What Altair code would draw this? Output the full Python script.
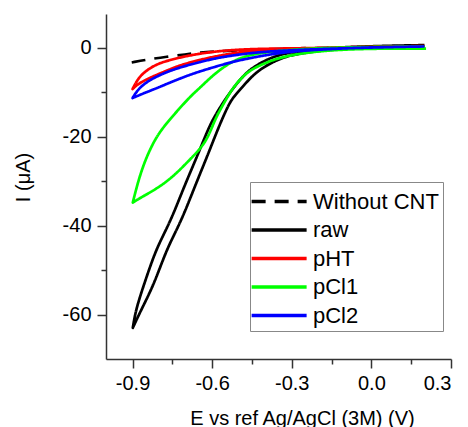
import altair as alt
import pandas as pd

series_names = ["Without CNT", "raw", "pHT", "pCl1", "pCl2"]
series_colors = ["#000000", "#000000", "#ff0000", "#00ff00", "#0000ff"]
series_dash = [[14, 9], [1, 0], [1, 0], [1, 0], [1, 0]]

# Without CNT (dashed)
nocnt_E = [-0.903, -0.84, -0.771, -0.70, -0.646, -0.58, -0.52, -0.40, -0.27, -0.12, 0.03, 0.12, 0.20]
nocnt_I = [-3.3, -2.6, -2.0, -1.5, -1.05, -0.8, -0.6, -0.35, -0.1, 0.05, 0.2, 0.3, 0.45]

# raw (black loop); the turning point is listed three times
raw_E = [0.20, 0.20, 0.10, 0.00, -0.10, -0.20, -0.27, -0.325, -0.375, -0.420, -0.455, -0.484,
         -0.508, -0.532, -0.566, -0.591, -0.616, -0.642, -0.667, -0.691, -0.716, -0.746, -0.776,
         -0.822, -0.868, -0.899, -0.899, -0.899,
         -0.888, -0.859, -0.816, -0.786, -0.756, -0.731, -0.707, -0.681, -0.654, -0.628, -0.602,
         -0.556, -0.516, -0.488, -0.458, -0.415, -0.37, -0.30, -0.20, -0.10, 0.00, 0.10, 0.20, 0.20]
raw_I = [0.45, 0.45, 0.3, 0.1, -0.2, -0.7, -1.3, -2.0, -3.3, -4.9, -6.7, -8.7,
         -10.3, -12.0, -16.5, -20.2, -24.0, -27.8, -31.5, -35.1, -38.7, -42.4, -46.1,
         -53.6, -59.0, -63.0, -63.0, -63.0,
         -59.0, -53.6, -46.1, -42.4, -38.7, -35.1, -31.5, -27.8, -24.0, -20.2, -16.5,
         -12.0, -8.7, -6.7, -4.9, -3.3, -2.0, -0.9, -0.2, 0.15, 0.35, 0.5, 0.6, 0.6]

# pHT (red loop)
pht_E = [0.20, 0.20, 0.10, 0.00, -0.10, -0.20, -0.30, -0.38, -0.457, -0.52, -0.583, -0.646, -0.709,
         -0.755, -0.796, -0.83, -0.86, -0.882, -0.90, -0.90, -0.90,
         -0.888, -0.872, -0.840, -0.809, -0.770, -0.733, -0.690, -0.646, -0.585, -0.52,
         -0.455, -0.394, -0.32, -0.25, -0.12, 0.00, 0.10, 0.20, 0.20]
pht_I = [0.4, 0.4, 0.3, 0.25, 0.1, -0.05, -0.12, -0.2, -0.3, -0.5, -0.8, -1.3, -2.0,
         -2.7, -3.4, -4.4, -5.7, -7.2, -9.3, -9.3, -9.3,
         -8.6, -7.9, -6.9, -6.1, -5.1, -4.2, -3.4, -2.7, -1.9, -1.2,
         -0.75, -0.45, -0.25, -0.1, 0.05, 0.2, 0.25, 0.3, 0.3]

# pCl1 (green loop)
pcl1_E = [0.206, 0.206, 0.10, 0.03, -0.05, -0.12, -0.20, -0.28, -0.35, -0.40, -0.457, -0.49,
          -0.517, -0.537, -0.555, -0.575, -0.592, -0.608, -0.625, -0.646, -0.696, -0.746,
          -0.803, -0.872, -0.899, -0.899, -0.899,
          -0.884, -0.865, -0.841, -0.809, -0.771, -0.727, -0.680, -0.646, -0.61, -0.57,
          -0.53, -0.49, -0.44, -0.37, -0.28, -0.18, -0.05, 0.10, 0.20, 0.20]
pcl1_I = [-0.2, -0.2, -0.2, -0.2, -0.3, -0.45, -0.8, -1.4, -2.3, -3.4, -5.0, -6.8,
          -8.7, -10.5, -12.4, -14.5, -16.6, -19.0, -21.0, -22.8, -25.9, -28.9,
          -31.5, -33.8, -34.8, -34.8, -34.8,
          -31.2, -27.4, -23.7, -19.9, -16.9, -13.9, -10.8, -9.0, -6.9, -4.9,
          -3.3, -2.2, -1.4, -0.8, -0.35, -0.05, 0.15, 0.25, 0.3, 0.3]

# pCl2 (blue loop)
pcl2_E = [0.20, 0.20, 0.10, 0.00, -0.10, -0.20, -0.28, -0.35, -0.40, -0.457, -0.52, -0.583, -0.646,
          -0.709, -0.755, -0.796, -0.83, -0.86, -0.882, -0.90, -0.90, -0.90,
          -0.888, -0.872, -0.840, -0.809, -0.770, -0.733, -0.690, -0.646, -0.585, -0.52,
          -0.455, -0.394, -0.32, -0.25, -0.10, 0.00, 0.10, 0.20, 0.20]
pcl2_I = [0.3, 0.3, 0.2, 0.1, -0.1, -0.3, -0.5, -0.7, -0.9, -1.2, -1.7, -2.3, -3.2,
          -4.2, -5.1, -6.1, -7.1, -8.3, -9.6, -11.3, -11.3, -11.3,
          -11.0, -10.6, -9.8, -9.1, -8.1, -7.2, -6.2, -5.3, -4.2, -3.1,
          -2.3, -1.6, -1.0, -0.6, -0.1, 0.05, 0.2, 0.3, 0.3]

x_ticks = [-0.9, -0.6, -0.3, 0.0, 0.3]
x_minor = [-0.75, -0.45, -0.15, 0.15]
y_ticks = [0, -20, -40, -60]
y_minor = [-10, -30, -50]

rows = []
for name, es, is_ in [("Without CNT", nocnt_E, nocnt_I), ("raw", raw_E, raw_I),
                      ("pHT", pht_E, pht_I), ("pCl1", pcl1_E, pcl1_I), ("pCl2", pcl2_E, pcl2_I)]:
    for k, (e, i) in enumerate(zip(es, is_)):
        rows.append({"series": name, "E": e, "I": i, "order": k})
df = pd.DataFrame(rows)

FONT = "Liberation Sans"
xscale = alt.Scale(domain=[-1.0, 0.3], nice=False, zero=False)
yscale = alt.Scale(domain=[-70, 7.6], nice=False, zero=False)
lab = "replace(datum.label, '\u2212', '-')"

legend = alt.Legend(title=None, orient="none", legendX=144, legendY=168)

main = alt.Chart(df).mark_line(strokeWidth=2.7, strokeJoin="round", strokeCap="butt",
                               interpolate="basis").encode(
    x=alt.X("E:Q", scale=xscale,
            axis=alt.Axis(orient="bottom", values=x_ticks, format=".1f", labelExpr=lab,
                          title="E vs ref Ag/AgCl (3M) (V)", titleX=196, titleY=65,
                          titleAlign="center", titleBaseline="alphabetic",
                          tickSize=9, labelPadding=5, grid=False)),
    y=alt.Y("I:Q", scale=yscale,
            axis=alt.Axis(orient="left", values=y_ticks, format="d", labelExpr=lab,
                          title="I (μA)", titleX=-83, titleY=163, titleAngle=270,
                          titleAlign="center", titleBaseline="middle",
                          tickSize=9, labelPadding=6, grid=False)),
    color=alt.Color("series:N", scale=alt.Scale(domain=series_names, range=series_colors), legend=legend),
    strokeDash=alt.StrokeDash("series:N", scale=alt.Scale(domain=series_names, range=series_dash), legend=legend),
    order=alt.Order("order:Q"),
)

minor = alt.Chart(df).mark_line(strokeOpacity=0).encode(
    x=alt.X("E:Q", scale=xscale,
            axis=alt.Axis(orient="bottom", values=x_minor, labels=False, domain=False,
                          tickSize=5, title="", grid=False)),
    y=alt.Y("I:Q", scale=yscale,
            axis=alt.Axis(orient="left", values=y_minor, labels=False, domain=False,
                          tickSize=5, title="", grid=False)),
    detail="series:N",
    order=alt.Order("order:Q"),
)

chart = alt.layer(main, minor).resolve_axis(x="independent", y="independent").properties(
    width=345, height=345,
    padding={"left": 98, "top": 6, "right": 9, "bottom": 72},
    autosize=alt.AutoSizeParams(type="none"),
).configure_view(stroke="transparent").configure_axis(
    domainColor="#333333", domainWidth=1.5, tickColor="#333333", tickWidth=1.5,
    labelFont=FONT, labelFontSize=20, labelColor="#000000",
    titleFont=FONT, titleFontSize=20, titleFontWeight="normal", titleColor="#000000",
).configure_legend(
    labelFont=FONT, labelFontSize=22, labelColor="#000000", symbolType="M-1.3,0H2.7",
    symbolSize=756, symbolStrokeWidth=3.5, strokeColor="#888888", fillColor="#ffffff",
    padding=4, rowPadding=1.5, labelOffset=28, labelLimit=300,
)

chart.save("out.html", embed_options={"renderer": "svg", "actions": False})
